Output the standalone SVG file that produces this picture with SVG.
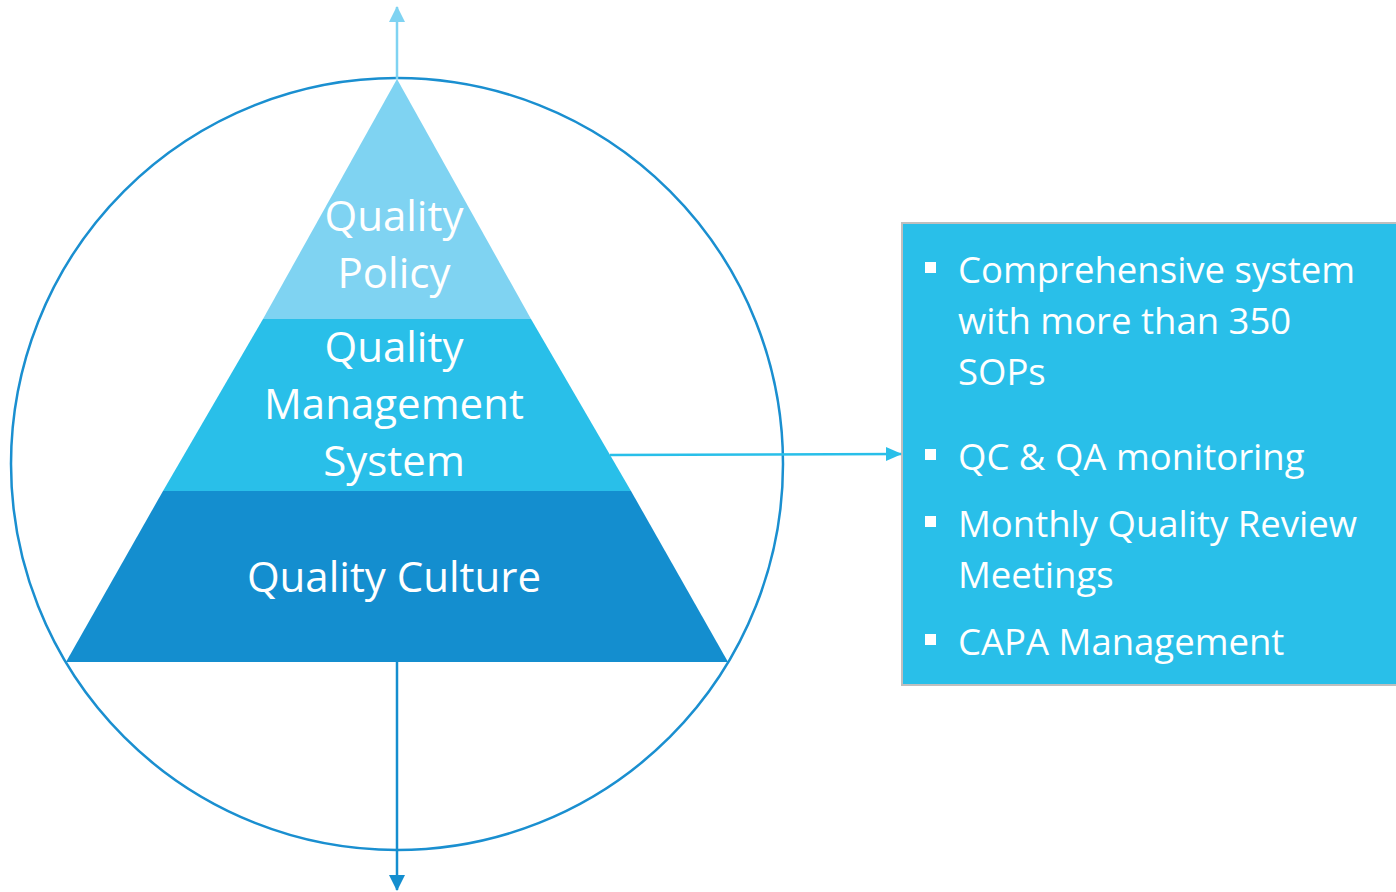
<svg xmlns="http://www.w3.org/2000/svg" width="1396" height="892" viewBox="0 0 1396 892">
<style>
.pt{font-family:"Open Sans","Noto Sans",sans-serif;font-size:42px;fill:#fff;text-anchor:middle}
.bt{font-family:"Open Sans","Noto Sans",sans-serif;font-size:36.5px;fill:#fff}
.bl{fill:#fff}
</style>
<defs>
<marker id="ahL" markerWidth="16" markerHeight="16" refX="15" refY="8" orient="auto" markerUnits="userSpaceOnUse" viewBox="0 0 16 16"><path d="M0,0 L16,8 L0,16 Z" fill="#7FD3F2"/></marker>
<marker id="ahD" markerWidth="16" markerHeight="16" refX="15" refY="8" orient="auto" markerUnits="userSpaceOnUse" viewBox="0 0 16 16"><path d="M0,0 L16,8 L0,16 Z" fill="#148ECF"/></marker>
<marker id="ahM" markerWidth="16" markerHeight="16" refX="15" refY="8" orient="auto" markerUnits="userSpaceOnUse" viewBox="0 0 16 16"><path d="M0,1 L16,8 L0,15 Z" fill="#29BFE9"/></marker>
</defs>
<rect width="1396" height="892" fill="#fff"/>
<g id="circle"><circle cx="397" cy="464" r="386" fill="none" stroke="#1A8FD0" stroke-width="2.5"/></g>
<g id="policy">
<polygon points="397,79 531,319 263,319" fill="#7FD3F2"/>
<text class="pt" x="394" y="231">Quality</text>
<text class="pt" x="394" y="288">Policy</text>
</g>
<g id="qms">
<polygon points="263,319 531,319 631,491 163,491" fill="#29BFE9"/>
<text class="pt" x="394" y="362">Quality</text>
<text class="pt" x="394" y="419">Management</text>
<text class="pt" x="394" y="476">System</text>
</g>
<g id="culture">
<polygon points="163,491 631,491 728,662 66,662" fill="#148ECF"/>
<text class="pt" x="394" y="592">Quality Culture</text>
</g>
<g id="details">
<rect x="902" y="223" width="500" height="462" fill="#29BFE9" stroke="#BFBFBF" stroke-width="2"/>
<rect class="bl" x="925" y="262" width="11" height="11"/>
<text class="bt" x="958" y="283">Comprehensive system</text>
<text class="bt" x="958" y="334">with more than 350</text>
<text class="bt" x="958" y="385">SOPs</text>
<rect class="bl" x="925" y="449" width="11" height="11"/>
<text class="bt" x="958" y="470">QC &amp; QA monitoring</text>
<rect class="bl" x="925" y="516" width="11" height="11"/>
<text class="bt" x="958" y="537">Monthly Quality Review</text>
<text class="bt" x="958" y="588">Meetings</text>
<rect class="bl" x="925" y="634" width="11" height="11"/>
<text class="bt" x="958" y="655">CAPA Management</text>
</g>
<g id="connectors">
<line x1="397" y1="79" x2="397" y2="7" stroke="#7FD3F2" stroke-width="2.5" marker-end="url(#ahL)"/>
<line x1="397" y1="662" x2="397" y2="890" stroke="#148ECF" stroke-width="2.5" marker-end="url(#ahD)"/>
<line x1="610" y1="455" x2="901" y2="454" stroke="#29BFE9" stroke-width="2.5" marker-end="url(#ahM)"/>
</g>
</svg>
